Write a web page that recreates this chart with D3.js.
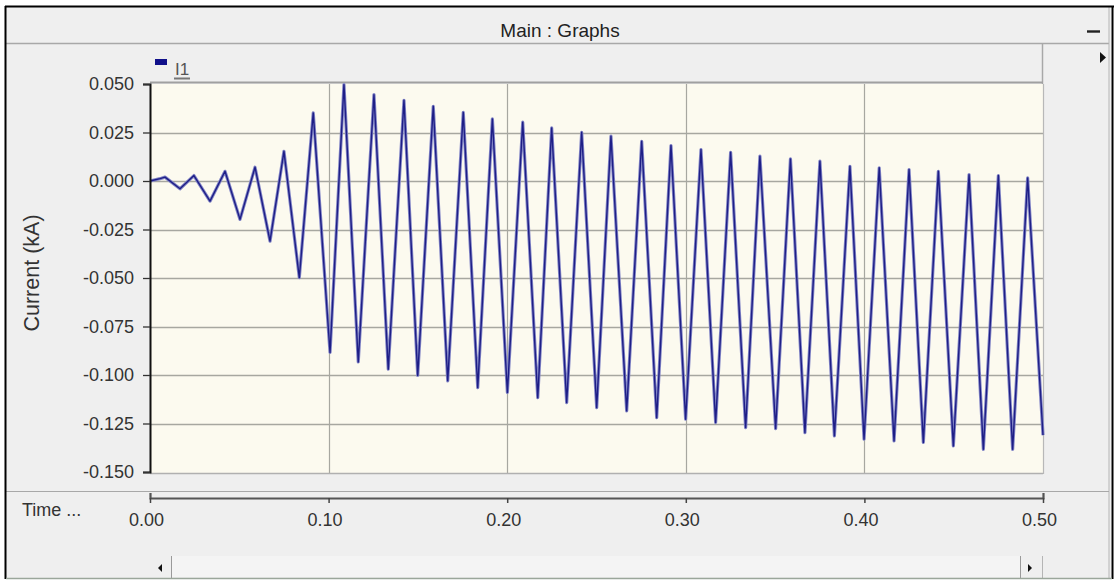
<!DOCTYPE html>
<html>
<head>
<meta charset="utf-8">
<script src="https://cdn.jsdelivr.net/npm/d3@7"></script>
<style>
  html, body { margin: 0; padding: 0; background: #ffffff; }
  svg { display: block; font-family: "Liberation Sans", Arial, sans-serif; }
</style>
</head>
<body>
<svg id="chart" width="1114" height="581"></svg>
<script>
// Current trace I1: successive turning points (time in s, current in kA)
const timeS = [
  0.0000, 0.0056, 0.0084, 0.0168, 0.0246, 0.0336, 0.0420, 0.0504, 0.0588, 0.0672,
  0.0750, 0.0836, 0.0914, 0.1008, 0.1086, 0.1166, 0.1254, 0.1334, 0.1422, 0.1499,
  0.1586, 0.1667, 0.1754, 0.1835, 0.1917, 0.2001, 0.2087, 0.2171, 0.2249, 0.2333,
  0.2417, 0.2501, 0.2581, 0.2669, 0.2753, 0.2837, 0.2917, 0.2999, 0.3085, 0.3167,
  0.3251, 0.3335, 0.3415, 0.3503, 0.3586, 0.3667, 0.3751, 0.3832, 0.3919, 0.3998,
  0.4083, 0.4166, 0.4250, 0.4330, 0.4414, 0.4498, 0.4586, 0.4666, 0.4750, 0.4830,
  0.4914, 0.5000
];
const currentKA = [
  0.0000, 0.0012, 0.0020, -0.0040, 0.0028, -0.0104, 0.0050, -0.0198, 0.0071, -0.0310,
  0.0153, -0.0498, 0.0351, -0.0884, 0.0497, -0.0933, 0.0445, -0.0970, 0.0416, -0.1002,
  0.0385, -0.1030, 0.0354, -0.1065, 0.0320, -0.1090, 0.0303, -0.1117, 0.0274, -0.1142,
  0.0251, -0.1168, 0.0231, -0.1185, 0.0205, -0.1220, 0.0183, -0.1228, 0.0162, -0.1245,
  0.0148, -0.1271, 0.0128, -0.1276, 0.0114, -0.1297, 0.0102, -0.1314, 0.0076, -0.1331,
  0.0068, -0.1340, 0.0059, -0.1348, 0.0050, -0.1366, 0.0033, -0.1383, 0.0028, -0.1383,
  0.0016, -0.1310
];
const yTicks = [0.050, 0.025, 0.000, -0.025, -0.050, -0.075, -0.100, -0.125, -0.150];
const xTicks = [0.00, 0.10, 0.20, 0.30, 0.40, 0.50];
const seriesName = "I1";
const panelTitle = "Main : Graphs";
const yTitle = "Current (kA)";
const xTitle = "Time ...";

const svg = d3.select("#chart");
const plot = { left: 150, right: 1043, top: 84, bottom: 472 };

const x = d3.scaleLinear().domain([0, 0.5]).range([plot.left, plot.right]);
const y = d3.scaleLinear().domain([-0.15, 0.05]).range([plot.bottom, plot.top]);

const panelBg = "#efefef";
const textCol = "#333333";
const font = "'Liberation Sans', Arial, sans-serif";
const fmtY = v => d3.format(".3f")(v).replace("\u2212", "-");
const fmtX = v => d3.format(".2f")(v).replace("\u2212", "-");

// window body
svg.append("rect").attr("x", 6).attr("y", 7).attr("width", 1105).attr("height", 571).attr("fill", panelBg);

// title bar
svg.append("line").attr("x1", 6).attr("x2", 1109).attr("y1", 43.5).attr("y2", 43.5).attr("stroke", "#a8a8a8").attr("stroke-width", 1.5);
svg.append("text").attr("x", 560).attr("y", 37).attr("text-anchor", "middle")
  .attr("font-size", 19).attr("fill", "#222").text(panelTitle);
svg.append("line").attr("x1", 1109).attr("x2", 1109).attr("y1", 7).attr("y2", 578).attr("stroke", "#b4b4b4").attr("stroke-width", 1);
svg.append("line").attr("x1", 1087).attr("x2", 1100).attr("y1", 31.5).attr("y2", 31.5).attr("stroke", "#222").attr("stroke-width", 2.4);

// legend strip
svg.append("line").attr("x1", plot.right - 0.5).attr("x2", plot.right - 0.5).attr("y1", 44).attr("y2", 84).attr("stroke", "#a8a8a8").attr("stroke-width", 1.5);
svg.append("line").attr("x1", plot.left).attr("x2", plot.right).attr("y1", 82.5).attr("y2", 82.5).attr("stroke", "#a0a0a0").attr("stroke-width", 2);
svg.append("rect").attr("x", 155).attr("y", 59).attr("width", 12).attr("height", 6).attr("fill", "#10108a");
svg.append("text").attr("x", 175).attr("y", 75).attr("font-size", 17).attr("fill", "#555").text(seriesName);
svg.append("line").attr("x1", 174).attr("x2", 190).attr("y1", 78.5).attr("y2", 78.5).attr("stroke", "#777").attr("stroke-width", 2);
svg.append("path").attr("d", "M1100,52 L1106,57.5 L1100,63 Z").attr("fill", "#111");

// plot area
svg.append("rect").attr("x", plot.left).attr("y", plot.top).attr("width", plot.right - plot.left)
  .attr("height", plot.bottom - plot.top + 1).attr("fill", "#fcfaef");

// grid lines
svg.append("g").selectAll("line").data(yTicks.filter(v => v > -0.15 && v < 0.05)).join("line")
  .attr("x1", plot.left).attr("x2", plot.right)
  .attr("y1", d => Math.round(y(d)) + 0.5).attr("y2", d => Math.round(y(d)) + 0.5)
  .attr("stroke", "#a7a7a0").attr("stroke-width", 1.6);
svg.append("g").selectAll("line").data(xTicks.filter(v => v > 0 && v < 0.5)).join("line")
  .attr("x1", d => Math.round(x(d)) + 0.5).attr("x2", d => Math.round(x(d)) + 0.5)
  .attr("y1", plot.top).attr("y2", plot.bottom + 1)
  .attr("stroke", "#a7a7a0").attr("stroke-width", 1.2);

// plot frame
svg.append("line").attr("x1", plot.left).attr("x2", plot.right).attr("y1", plot.bottom + 1.5).attr("y2", plot.bottom + 1.5).attr("stroke", "#b0b0b0").attr("stroke-width", 1.5);
svg.append("line").attr("x1", plot.right + 0.5).attr("x2", plot.right + 0.5).attr("y1", plot.top).attr("y2", plot.bottom + 2).attr("stroke", "#b8b8b8").attr("stroke-width", 1.2);

// current trace
const pts = timeS.map((t, i) => [t, currentKA[i]]);
const line = d3.line().x(d => x(d[0])).y(d => y(d[1])).curve(d3.curveLinear);
svg.append("path").datum(pts).attr("d", line)
  .attr("fill", "none").attr("stroke", "#8285c6").attr("stroke-width", 3.2).attr("stroke-linejoin", "round");
svg.append("path").datum(pts).attr("d", line)
  .attr("fill", "none").attr("stroke", "#1e1e86").attr("stroke-width", 1.4).attr("stroke-linejoin", "round");

// y axis
const yAxis = d3.axisLeft(y).tickValues(yTicks).tickSize(7).tickPadding(9).tickFormat(fmtY);
const gy = svg.append("g").attr("transform", `translate(${plot.left},0)`).call(yAxis);
gy.select(".domain").attr("stroke", "#111").attr("stroke-width", 2);
gy.selectAll(".tick line").attr("stroke", "#333").attr("stroke-width", 1.3);
gy.selectAll(".tick text").attr("font-size", 18).attr("fill", textCol).attr("font-family", font);
svg.append("text").attr("transform", "translate(39,273) rotate(-90)").attr("text-anchor", "middle")
  .attr("font-size", 21.5).attr("fill", textCol).text(yTitle);

// x axis strip
svg.append("line").attr("x1", 6).attr("x2", 1109).attr("y1", 491.5).attr("y2", 491.5).attr("stroke", "#a8a8a8").attr("stroke-width", 1.2);
const xAxis = d3.axisTop(x).tickValues(xTicks).tickSize(5).tickFormat(fmtX);
const gx = svg.append("g").attr("transform", "translate(0,498)").call(xAxis);
gx.select(".domain").attr("stroke", "#555").attr("stroke-width", 2.2);
gx.selectAll(".tick line").attr("stroke", "#444").attr("stroke-width", 1.5).attr("y2", 5);
gx.selectAll(".tick text").attr("y", 28).attr("dx", -4).attr("font-size", 18).attr("fill", textCol).attr("font-family", font);
svg.append("text").attr("x", 22).attr("y", 516).attr("font-size", 18).attr("fill", textCol).text(xTitle);

// horizontal scrollbar
svg.append("rect").attr("x", 171).attr("y", 556).attr("width", 849).attr("height", 21).attr("fill", "#f4f4f4");
svg.append("line").attr("x1", 171.5).attr("x2", 171.5).attr("y1", 556).attr("y2", 578).attr("stroke", "#9a9a9a");
svg.append("line").attr("x1", 1020.5).attr("x2", 1020.5).attr("y1", 556).attr("y2", 578).attr("stroke", "#9a9a9a");
svg.append("line").attr("x1", 1042.5).attr("x2", 1042.5).attr("y1", 556).attr("y2", 578).attr("stroke", "#b5b5b5");
svg.append("path").attr("d", "M162,564 L158,568 L162,572 Z").attr("fill", "#111");
svg.append("path").attr("d", "M1028,564 L1032,568 L1028,572 Z").attr("fill", "#111");

// outer frame
svg.append("line").attr("x1", 5).attr("x2", 1114).attr("y1", 6.5).attr("y2", 6.5).attr("stroke", "#000").attr("stroke-width", 2);
svg.append("line").attr("x1", 5.5).attr("x2", 5.5).attr("y1", 6).attr("y2", 579).attr("stroke", "#000").attr("stroke-width", 2);
svg.append("line").attr("x1", 1112.5).attr("x2", 1112.5).attr("y1", 6).attr("y2", 579).attr("stroke", "#000").attr("stroke-width", 2);
svg.append("line").attr("x1", 6).attr("x2", 1112).attr("y1", 578.5).attr("y2", 578.5).attr("stroke", "#9aa69a").attr("stroke-width", 1.5);
</script>
</body>
</html>
